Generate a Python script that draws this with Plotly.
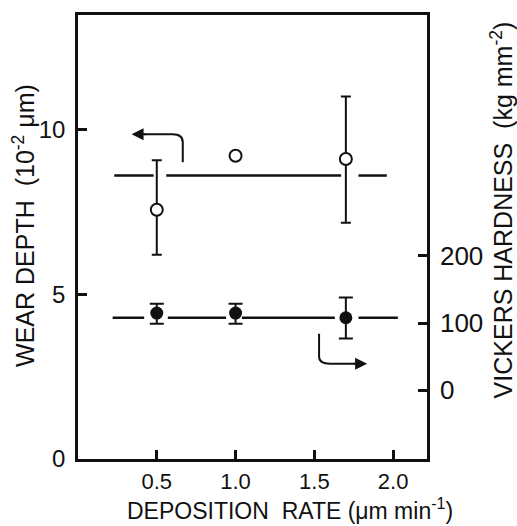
import plotly.graph_objects as go

# Data
rate = [0.5, 1.0, 1.7]
wear_depth = [7.56, 9.2, 9.1]
wear_err_plus = [1.5, 0.0, 1.9]
wear_err_minus = [1.36, 0.0, 1.93]

hardness = [115, 115, 108]
hard_err_plus = [14, 14, 30]
hard_err_minus = [16, 16, 31]

# reference lines (mean levels), drawn as broken segments
wear_line_x = [0.23, 0.48, None, 0.56, 1.67, None, 1.78, 1.96]
wear_line_level = 8.6
hard_line_x = [0.22, 0.42, None, 0.57, 0.94, None, 1.04, 1.63, None, 1.78, 2.03]
hard_line_level = 108

FONT = "Liberation Sans"
BLACK = "#111"

fig = go.Figure()

fig.add_trace(go.Scatter(
    x=wear_line_x,
    y=[wear_line_level if v is not None else None for v in wear_line_x],
    mode="lines", line=dict(color=BLACK, width=2.5), showlegend=False,
    connectgaps=False, hoverinfo="skip"))

fig.add_trace(go.Scatter(
    x=hard_line_x,
    y=[hard_line_level if v is not None else None for v in hard_line_x],
    mode="lines", line=dict(color=BLACK, width=2.5), showlegend=False,
    connectgaps=False, yaxis="y2", hoverinfo="skip"))

# wear depth (open circles)
fig.add_trace(go.Scatter(
    x=rate, y=wear_depth, mode="markers",
    marker=dict(symbol="circle", size=12, color="white",
                line=dict(color=BLACK, width=2)),
    error_y=dict(type="data", symmetric=False,
                 array=wear_err_plus, arrayminus=wear_err_minus,
                 color=BLACK, thickness=2, width=5),
    showlegend=False))

# hardness (filled circles)
fig.add_trace(go.Scatter(
    x=rate, y=hardness, mode="markers", yaxis="y2",
    marker=dict(symbol="circle", size=13, color=BLACK),
    error_y=dict(type="data", symmetric=False,
                 array=hard_err_plus, arrayminus=hard_err_minus,
                 color=BLACK, thickness=2, width=7),
    showlegend=False))

# curved pointer arrows
fig.add_shape(type="path", xref="x", yref="y",
              path="M 0.665 9.0 L 0.665 9.6 Q 0.665 9.85 0.6 9.85 L 0.42 9.85",
              line=dict(color=BLACK, width=2))
fig.add_annotation(x=0.34, y=9.85, ax=0.44, ay=9.85, xref="x", yref="y",
                   axref="x", ayref="y", text="", showarrow=True,
                   arrowhead=2, arrowsize=1.2, arrowwidth=2, arrowcolor=BLACK)
fig.add_shape(type="path", xref="x", yref="y",
              path="M 1.53 3.8 L 1.53 3.1 Q 1.53 2.89 1.6 2.89 L 1.76 2.89",
              line=dict(color=BLACK, width=2))
fig.add_annotation(x=1.835, y=2.89, ax=1.74, ay=2.89, xref="x", yref="y",
                   axref="x", ayref="y", text="", showarrow=True,
                   arrowhead=2, arrowsize=1.2, arrowwidth=2, arrowcolor=BLACK)

# axis titles
fig.add_annotation(x=-0.155, y=0.527, xref="paper", yref="paper",
                   xanchor="center", yanchor="middle",
                   text="WEAR DEPTH  (10<sup>-2</sup> μm)", textangle=-90,
                   showarrow=False, font=dict(family=FONT, size=25, color=BLACK))
fig.add_annotation(x=1.215, y=0.56, xref="paper", yref="paper",
                   xanchor="center", yanchor="middle",
                   text="VICKERS HARDNESS  (kg mm<sup>-2</sup>)", textangle=-90,
                   showarrow=False, font=dict(family=FONT, size=25, color=BLACK))
fig.add_annotation(x=0.607, y=-0.112, xref="paper", yref="paper",
                   xanchor="center", yanchor="middle",
                   text="DEPOSITION  RATE (μm min<sup>-1</sup>)",
                   showarrow=False, font=dict(family=FONT, size=23, color=BLACK))

fig.update_layout(
    width=517, height=526,
    margin=dict(l=78, r=90, t=13, b=67),
    paper_bgcolor="white", plot_bgcolor="white",
    font=dict(family=FONT, size=23, color=BLACK),
    xaxis=dict(range=[0, 2.215], tickvals=[0.5, 1.0, 1.5, 2.0],
               ticktext=["0.5", "1.0", "1.5", "2.0"],
               tickfont=dict(size=22), ticklabelstandoff=1,
               showline=True, linecolor=BLACK, linewidth=2.5, mirror=True,
               ticks="inside", ticklen=9, tickwidth=2.5, tickcolor=BLACK,
               showgrid=False, zeroline=False),
    yaxis=dict(range=[0, 13.47], tickvals=[0, 5, 10],
               tickfont=dict(size=24), ticklabelstandoff=5,
               showline=True, linecolor=BLACK, linewidth=2.5, mirror=True,
               ticks="inside", ticklen=9, tickwidth=2.5, tickcolor=BLACK,
               showgrid=False, zeroline=False),
    yaxis2=dict(range=[-102.2, 558.5], tickvals=[0, 100, 200],
                tickfont=dict(size=26), ticklabelstandoff=5,
                overlaying="y", side="right",
                showline=True, linecolor=BLACK, linewidth=2.5,
                ticks="inside", ticklen=9, tickwidth=2.5, tickcolor=BLACK,
                showgrid=False, zeroline=False),
)

fig.write_html("out.html")
